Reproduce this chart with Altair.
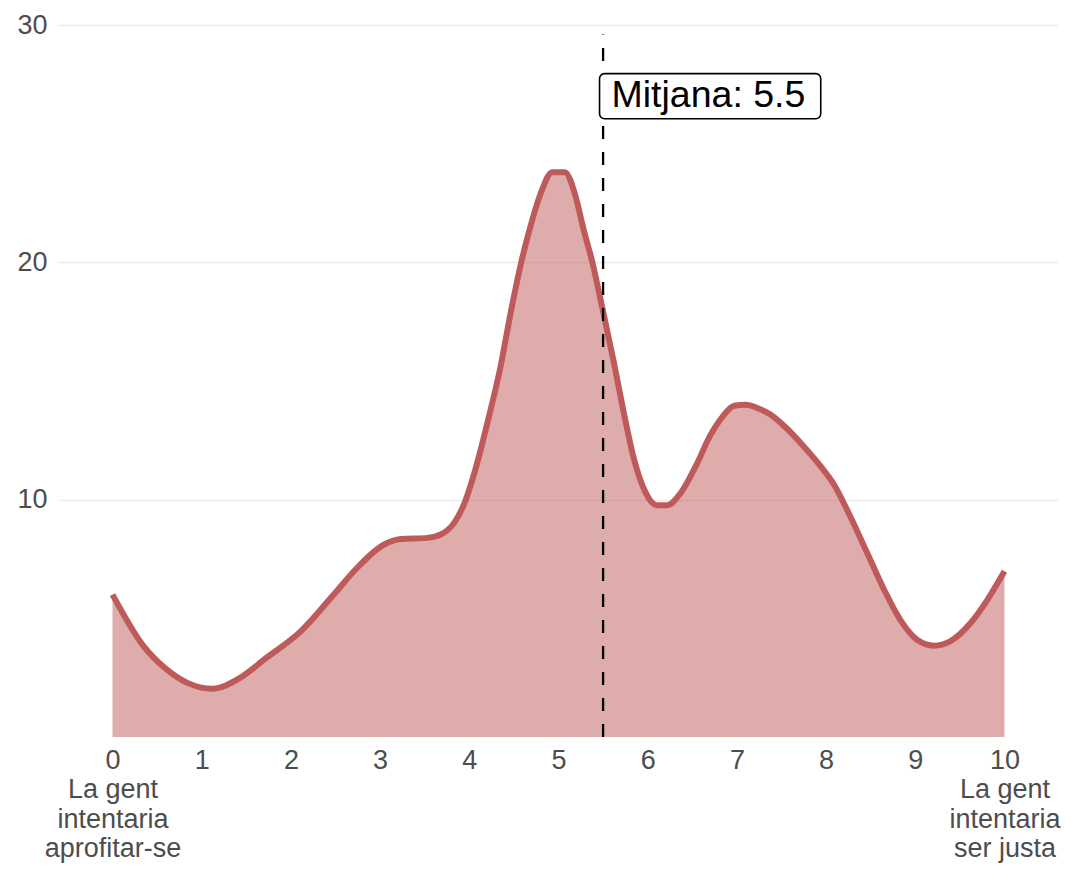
import altair as alt
import pandas as pd

# ---- data ----
xs = [0.0, 0.35, 0.61, 0.84, 1.12, 1.43, 1.73, 2.11, 2.48, 2.74, 3.04, 3.23, 3.53, 3.68,
      3.83, 3.94, 4.07, 4.22, 4.35, 4.46, 4.57, 4.67, 4.80, 4.93, 5.07, 5.19, 5.28, 5.38,
      5.49, 5.62, 5.73, 5.84, 5.97, 6.10, 6.22, 6.37, 6.55, 6.70, 6.84, 6.97, 7.10, 7.23,
      7.38, 7.56, 7.75, 7.94, 8.09, 8.27, 8.46, 8.65, 8.83, 9.02, 9.21, 9.39, 9.62, 9.81, 10.0]
ys = [6.0, 3.82, 2.84, 2.28, 2.03, 2.49, 3.35, 4.45, 6.0, 7.12, 8.1, 8.34, 8.39, 8.53,
      9.02, 9.8, 11.3, 13.5, 15.6, 17.8, 19.8, 21.3, 22.9, 23.8, 23.8, 22.8, 21.4, 20.0,
      18.1, 15.8, 13.7, 11.8, 10.35, 9.77, 9.77, 10.28, 11.5, 12.7, 13.5, 13.96, 14.0, 13.86,
      13.58, 13.0, 12.24, 11.4, 10.63, 9.3, 7.76, 6.21, 4.95, 4.1, 3.85, 4.03, 4.8, 5.79, 6.98]

mean_value = 5.5
mean_label = "Mitjana: 5.5"
label_y = 27.0
label_box_x = [5.46, 7.94]
label_box_y = [26.05, 27.95]
rule_top = 29.6

x_ticks = [0, 1, 2, 3, 4, 5, 6, 7, 8, 9, 10]
y_ticks = [10, 20, 30]
end_labels = {
    0: ["0", "La gent", "intentaria", "aprofitar-se"],
    10: ["10", "La gent", "intentaria", "ser justa"],
}

LINE = "#bf5a5a"
FONT = "Liberation Sans"
GREY = "#4d4d4d"

df = pd.DataFrame({"x": xs, "y": ys})

label_expr = "datum.label"
for v, lines in end_labels.items():
    arr = "[" + ",".join("'" + s + "'" for s in lines) + "]"
    label_expr = f"datum.value == {v} ? {arr} : ({label_expr})"

xscale = alt.Scale(domain=[-0.6, 10.6], nice=False, zero=False)
yscale = alt.Scale(domain=[0, 30], nice=False)

xaxis = alt.Axis(values=x_ticks, format="d", title=None, grid=False, ticks=False, domain=False,
                 labelFont=FONT, labelFontSize=27, labelColor=GREY, labelPadding=10,
                 labelExpr=label_expr, labelLineHeight=29.5, labelFlush=False,
                 labelOverlap=False)
yaxis = alt.Axis(values=y_ticks, format="d", title=None, grid=True, gridColor="#ebebeb",
                 gridWidth=1.6, ticks=False, domain=False, labelFont=FONT,
                 labelFontSize=27, labelColor=GREY, labelPadding=12)

base = alt.Chart(df)

area = base.mark_area(color=LINE, opacity=0.5, interpolate="monotone").encode(
    x=alt.X("x:Q", scale=xscale, axis=xaxis),
    y=alt.Y("y:Q", scale=yscale, axis=yaxis),
)
line = base.mark_line(color=LINE, strokeWidth=6, interpolate="monotone").encode(
    x=alt.X("x:Q", scale=xscale),
    y=alt.Y("y:Q", scale=yscale),
)

rule_df = pd.DataFrame({"x": [mean_value], "y": [0.0], "y2": [rule_top]})
rule = alt.Chart(rule_df).mark_rule(color="black", strokeWidth=2.3,
                                     strokeDash=[13, 13]).encode(
    x=alt.X("x:Q", scale=xscale),
    y=alt.Y("y:Q", scale=yscale),
    y2="y2:Q",
)

box_df = pd.DataFrame({"x": [label_box_x[0]], "x2": [label_box_x[1]],
                       "y": [label_box_y[0]], "y2": [label_box_y[1]]})
box = alt.Chart(box_df).mark_rect(fill="white", stroke="black", strokeWidth=1.6,
                                  cornerRadius=5).encode(
    x=alt.X("x:Q", scale=xscale), x2="x2:Q",
    y=alt.Y("y:Q", scale=yscale), y2="y2:Q",
)

text_df = pd.DataFrame({"x": [label_box_x[0]], "y": [label_y], "t": [mean_label]})
text = alt.Chart(text_df).mark_text(font=FONT, fontSize=37.5, color="black",
                                    align="left", baseline="middle", dx=12).encode(
    x=alt.X("x:Q", scale=xscale),
    y=alt.Y("y:Q", scale=yscale),
    text="t:N",
)

chart = alt.layer(area, line, rule, box, text).properties(
    width=999, height=712,
    background="white",
    autosize=alt.AutoSizeParams(type="none"),
    padding={"left": 51, "top": 17, "right": 5, "bottom": 127},
).configure_view(strokeWidth=0, stroke=None)

chart.save("out.html", embed_options={"renderer": "svg", "actions": False})
